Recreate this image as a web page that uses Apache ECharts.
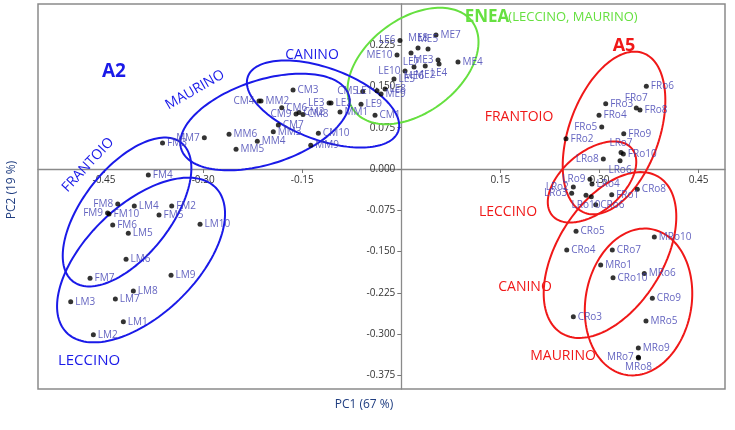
<!DOCTYPE html>
<html>
<head>
<meta charset="utf-8">
<script src="https://cdn.jsdelivr.net/npm/echarts@6/dist/echarts.min.js"></script>
<style>
html, body { margin: 0; padding: 0; background: #fff; }
#chart { width: 735px; height: 430px; }
</style>
</head>
<body>
<div id="chart"></div>
<script>
// tick values
const xTicks = [-0.45, -0.30, -0.15, 0.15, 0.30, 0.45]
const yTicks = [-0.375, -0.300, -0.225, -0.150, -0.075, 0, 0.075, 0.150, 0.225]

// scores [label, PC1, PC2]
const enea = [
  ['ME7', 0.0525, 0.2436], ['LE6', -0.0020, 0.2336], ['ME8', 0.0253, 0.2200],
  ['ME5', 0.0404, 0.2182], ['LE7', 0.0147, 0.2109], ['ME10', -0.0065, 0.2073],
  ['ME3', 0.0556, 0.1982], ['ME4', 0.0858, 0.1945], ['LE4', 0.0571, 0.1909],
  ['ME2', 0.0362, 0.1873], ['ME6', 0.0192, 0.1855], ['LE10', 0.0056, 0.1782],
  ['LE5', -0.0111, 0.1636], ['LE8', -0.0247, 0.1455], ['LE1', -0.0368, 0.1424],
  ['ME9', -0.0307, 0.1364],
]
const a2 = [
  ['CM5', -0.0584, 0.1409], ['LE9', -0.0610, 0.1176], ['CM1', -0.0398, 0.0976],
  ['MM1', -0.0928, 0.1036], ['LE2', -0.1064, 0.1200], ['LE3', -0.1094, 0.1200],
  ['CM10', -0.1256, 0.0649], ['MM9', -0.1371, 0.0431], ['CM3', -0.1639, 0.1436],
  ['MM2', -0.2124, 0.1236], ['CM4', -0.2154, 0.1236], ['CM6', -0.1810, 0.1115],
  ['CM9', -0.1594, 0.1000], ['CM2', -0.1549, 0.1027], ['CM8', -0.1488, 0.0991],
  ['CM7', -0.1862, 0.0800], ['MM3', -0.1938, 0.0678], ['MM6', -0.2608, 0.0631],
  ['MM4', -0.2180, 0.0504], ['MM5', -0.2502, 0.0358], ['MM7', -0.2982, 0.0569],
  ['FM3', -0.3615, 0.0473], ['FM4', -0.3830, -0.0109], ['FM8', -0.4293, -0.0636],
  ['FM9', -0.4447, -0.0800], ['FM10', -0.4425, -0.0818], ['LM4', -0.4042, -0.0673],
  ['FM2', -0.3476, -0.0673], ['FM5', -0.3668, -0.0836], ['FM6', -0.4369, -0.1018],
  ['LM5', -0.4133, -0.1169], ['LM10', -0.3047, -0.1005], ['LM6', -0.4167, -0.1642],
  ['FM7', -0.4712, -0.1987], ['LM9', -0.3486, -0.1933], ['LM8', -0.4057, -0.2218],
  ['LM3', -0.5005, -0.2413], ['LM7', -0.4329, -0.2364], ['LM1', -0.4208, -0.2776],
  ['LM2', -0.4662, -0.3013],
]
const a5 = [
  ['FRo6', 0.3709, 0.1504], ['FRo3', 0.3094, 0.1187], ['FRo7', 0.3557, 0.1109],
  ['FRo8', 0.3613, 0.1073], ['FRo4', 0.2993, 0.0976], ['FRo5', 0.3034, 0.0764],
  ['FRo9', 0.3367, 0.0642], ['FRo2', 0.2493, 0.0551], ['FRo10', 0.3361, 0.0273],
  ['LRo7', 0.3326, 0.0300], ['LRo8', 0.3058, 0.0182], ['LRo6', 0.3311, 0.0151],
  ['LRo9', 0.2856, -0.0187], ['LRo4', 0.2887, -0.0273], ['LRo2', 0.2604, -0.0327],
  ['LRo3', 0.2579, -0.0442], ['LRo10', 0.2796, -0.0478], ['LRo1', 0.2876, -0.0504],
  ['CRo6', 0.2943, -0.0649], ['FRo1', 0.3185, -0.0467], ['CRo8', 0.3573, -0.0369],
  ['CRo5', 0.2645, -0.1133], ['CRo4', 0.2504, -0.1473], ['CRo7', 0.3194, -0.1473],
  ['MRo1', 0.3018, -0.1745], ['MRo10', 0.3830, -0.1236], ['MRo6', 0.3678, -0.1900],
  ['CRo10', 0.3205, -0.1976], ['CRo9', 0.3800, -0.2351], ['CRo3', 0.2604, -0.2685],
  ['MRo5', 0.3704, -0.2764], ['MRo9', 0.3588, -0.3255], ['MRo7', 0.3588, -0.3424],
  ['MRo8', 0.3591, -0.3436],
]

// cultivar ellipses [centre PC1, centre PC2, semi-major, semi-minor, angle]
const eneaEllipses = [[0.0177, 0.1873, 0.112, 0.0711, 37]]
const a2Ellipses = [
  [-0.1185, 0.1182, 0.1211, 0.0545, -20], // canino
  [-0.2064, 0.0855, 0.1332, 0.0636, 18],  // maurino
  [-0.4152, -0.0782, 0.1332, 0.0666, 52], // frantoio
  [-0.3940, -0.1655, 0.1574, 0.0833, 44], // leccino
]
const a5Ellipses = [
  [0.3220, 0.0655, 0.1287, 0.0681, 70],   // frantoio
  [0.2887, -0.0236, 0.0787, 0.0454, 40],  // leccino
  [0.3159, -0.1564, 0.1393, 0.0802, 58],  // canino
  [0.3591, -0.2418, 0.1120, 0.0802, 80],  // maurino
]

// where the point label sits (default right)
const labelPos = {
  LE6: 'left', ME10: 'left', ME3: 'left', LE10: 'left', CM5: 'left', LE3: 'left',
  CM4: 'left', CM9: 'left', MM7: 'left', FM8: 'left', FM9: 'left', FRo5: 'left',
  LRo8: 'left', LRo9: 'left', LRo2: 'left', LRo3: 'left', MRo7: 'left', LE1: 'left',
  ME8: 'top', ME5: 'top', FRo7: 'top', LRo7: 'top',
  LE7: 'bottom', LE4: 'bottom', ME2: 'bottom', ME6: 'bottom', LRo6: 'bottom',
  LRo10: 'bottom', MRo8: 'bottom',
}

const BLUE = '#1a1ae8'
const RED = '#f01818'
const GREEN = '#66e040'

// plot area and ranges
const G = { left: 38, right: 10, top: 4, bottom: 41 }
const X_RANGE = [-0.55, 0.49]
const Y_RANGE = [-0.40, 0.30]
const W = 735 - G.left - G.right
const H = 430 - G.top - G.bottom
// axes are drawn through the origin, so shift them from the frame edges
const yAxisShift = -W * (0 - X_RANGE[0]) / (X_RANGE[1] - X_RANGE[0])
const xAxisShift = -H * (0 - Y_RANGE[0]) / (Y_RANGE[1] - Y_RANGE[0])

const points = enea.concat(a2, a5).map(([name, x, y]) => ({
  name,
  value: [x, y],
  label: name === 'LRo1' ? { show: false } : { position: labelPos[name] || 'right' },
}))

function ellipseItem(color) {
  return (params, api) => {
    const c = api.coord([api.value(0), api.value(1)])
    const ra = api.size([api.value(2), 0])[0]
    const rb = api.size([api.value(3), 0])[0]
    const t = api.value(4) * Math.PI / 180
    const pts = []
    for (let i = 0; i < 144; i++) {
      const p = i / 144 * Math.PI * 2
      const ex = ra * Math.cos(p)
      const ey = rb * Math.sin(p)
      pts.push([
        c[0] + ex * Math.cos(t) - ey * Math.sin(t),
        c[1] - (ex * Math.sin(t) + ey * Math.cos(t)),
      ])
    }
    return {
      type: 'polygon',
      shape: { points: pts },
      style: { fill: 'none', stroke: color, lineWidth: 2 },
    }
  }
}

function ellipseSeries(data, color) {
  return {
    type: 'custom',
    data,
    encode: { x: 0, y: 1 },
    renderItem: ellipseItem(color),
    silent: true,
    z: 3,
  }
}

function txt(text, x, y, color, size, opts, bold) {
  return Object.assign({
    type: 'text',
    x, y,
    style: {
      text, fill: color, font: (bold ? 'bold ' : '') + size + 'px "Open Sans", sans-serif',
      align: 'center', verticalAlign: 'middle',
    },
    z: 10,
  }, opts || {})
}

const chart = echarts.init(document.getElementById('chart'))
chart.setOption({
  animation: false,
  backgroundColor: '#fff',
  grid: Object.assign({
    show: true, borderColor: '#8a8a8a', borderWidth: 1.5,
    outerBoundsMode: 'none',
  }, G),
  xAxis: {
    type: 'value', min: X_RANGE[0], max: X_RANGE[1],
    offset: xAxisShift,
    axisLine: { onZero: false, lineStyle: { color: '#8a8a8a', width: 1.3 } },
    axisTick: { customValues: xTicks, length: 4, lineStyle: { color: '#777' } },
    axisLabel: {
      customValues: xTicks, formatter: v => v.toFixed(2),
      fontSize: 10, color: '#333', margin: 6, fontFamily: '"Open Sans", sans-serif',
    },
    splitLine: { show: false },
  },
  yAxis: {
    type: 'value', min: Y_RANGE[0], max: Y_RANGE[1],
    offset: yAxisShift,
    axisLine: { onZero: false, lineStyle: { color: '#8a8a8a', width: 1.3 } },
    axisTick: { customValues: yTicks, length: 4, lineStyle: { color: '#777' } },
    axisLabel: {
      customValues: yTicks, formatter: v => v.toFixed(3),
      fontSize: 10, color: '#333', margin: 6, fontFamily: '"Open Sans", sans-serif',
    },
    splitLine: { show: false },
  },
  series: [
    ellipseSeries(eneaEllipses, GREEN),
    ellipseSeries(a2Ellipses, BLUE),
    ellipseSeries(a5Ellipses, RED),
    {
      type: 'scatter',
      data: points,
      symbolSize: 5,
      itemStyle: { color: '#000' },
      label: {
        show: true,
        formatter: '{b}',
        fontSize: 10,
        distance: 2,
        color: '#3c3cb0',
        fontFamily: '"Open Sans", sans-serif',
      },
      labelLayout: { hideOverlap: false },
      z: 4,
    },
  ],
  graphic: [
    txt('A2', 114, 72, BLUE, 19, null, true),
    txt('MAURINO', 195, 90, BLUE, 14, { rotation: 30 * Math.PI / 180 }),
    txt('CANINO', 312, 55, BLUE, 14),
    txt('FRANTOIO', 88, 165, BLUE, 14, { rotation: 47 * Math.PI / 180 }),
    txt('LECCINO', 89, 361, BLUE, 15),
    txt('ENEA', 487, 17, GREEN, 17, null, true),
    txt('(LECCINO, MAURINO)', 573, 17, GREEN, 13),
    txt('A5', 624, 46, RED, 18, null, true),
    txt('FRANTOIO', 519, 117, RED, 14),
    txt('LECCINO', 508, 212, RED, 14),
    txt('CANINO', 525, 287, RED, 14),
    txt('MAURINO', 563, 356, RED, 14),
    txt('PC1 (67 %)', 364, 405, '#1f3d80', 12),
    txt('PC2 (19 %)', 12, 190, '#1f3d80', 12, { rotation: Math.PI / 2 }),
  ],
})
</script>
</body>
</html>
